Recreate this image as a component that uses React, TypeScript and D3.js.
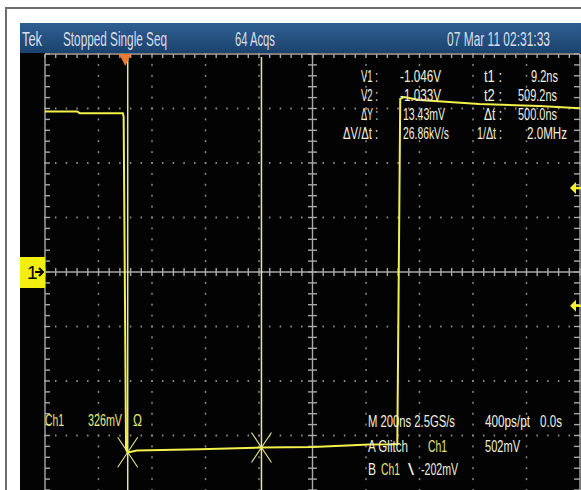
import React from "react";
import * as d3 from "d3";

// ---- data ----
const timeNs = [-300, -180, -170, -9, -6, 3, 9, 43, 278, 509, 703, 912, 1017, 1028, 1043, 1099, 1323, 1547, 1700];
const volts = [0.96, 0.96, 0.95, 0.95, 0.93, -1.06, -1.08, -1.068, -1.06, -1.05, -1.047, -1.032, -1.03, 1.035, 1.047, 1.029, 1.005, 0.993, 0.98];
const cursorTimesNs = [9.2, 509.2];
const cursorVolts = [-1.078, -1.05];
const triggerLevelsV = [0.502, -0.202];
const triggerTimeNs = 0;
const groundLevelV = 0;
const voltsPerDiv = 0.326;
const nsPerDiv = 200;
const startNs = -300;
const horizDivs = 10;
const vertDivs = 8;
const minorPerDiv = 5;

const headerLabels = ["Tek", "Stopped  Single Seq", "64 Acqs", "07 Mar 11 02:31:33"];
const readoutLeftLabels = ["V1 :", "V2 :", "ΔY :", "ΔV/Δt :"];
const readoutLeftValues = ["-1.046V", "-1.033V", "13.43mV", "26.86kV/s"];
const readoutRightLabels = ["t1 :", "t2 :", "Δt :", "1/Δt :"];
const readoutRightValues = ["9.2ns", "509.2ns", "500.0ns", "2.0MHz"];
const channelLabels = ["Ch1", "326mV", "Ω"];
const timebaseLabels = ["M 200ns 2.5GS/s", "400ps/pt", "0.0s"];
const triggerALabels = ["A  Glitch", "Ch1", "502mV"];
const triggerBLabels = ["B", "Ch1", "\\", "-202mV"];

const FONT = "'Liberation Sans Narrow', 'Arial Narrow', 'Liberation Sans', sans-serif";

function T(props: { x: number; y: number; w: number; size: number; fill: string; children: string }) {
  return (
    <text x={props.x} y={props.y} fontSize={props.size} fill={props.fill} fontFamily={FONT}
      textLength={props.w} lengthAdjust="spacingAndGlyphs">{props.children}</text>
  );
}

export default function App() {
  const W = 581, H = 490;
  const L = 45, R = 580, TOP = 54, BOT = 490;
  const x = d3.scaleLinear().domain([startNs, startNs + horizDivs * nsPerDiv]).range([L, R]);
  const y = d3.scaleLinear().domain([-vertDivs / 2 * voltsPerDiv, vertDivs / 2 * voltsPerDiv]).range([BOT, TOP]);

  const minorT = d3.range(0, horizDivs * minorPerDiv + 1).map(i => startNs + i * nsPerDiv / minorPerDiv);
  const minorV = d3.range(0, vertDivs * minorPerDiv + 1).map(i => -vertDivs / 2 * voltsPerDiv + i * voltsPerDiv / minorPerDiv);
  const majorT = d3.range(1, horizDivs).map(i => startNs + i * nsPerDiv);
  const majorV = d3.range(1, vertDivs).map(i => -vertDivs / 2 * voltsPerDiv + i * voltsPerDiv);
  const centerT = startNs + horizDivs / 2 * nsPerDiv;

  const line = d3.line<number>().x((_, i) => x(timeNs[i])).y(d => y(d));
  const wave = line(volts) || "";

  const gridCol = "#8a8a8a";
  const axisCol = "#a9a9a9";
  const curCol = "#e8e890";
  const txt = "#f0f0dc";
  const yel = "#e8e87a";

  const hdrW = [20, 104, 40, 103];
  const hdrX = [22, 63, 235, 447];
  const rowY = [82, 101, 120, 139];
  const llX = [361, 361, 361, 343], llW = [17, 17, 17, 35];
  const lvX = [400, 400, 403, 403], lvW = [41, 41, 42, 46];
  const rlX = [484, 484, 484, 477], rlW = [18, 18, 18, 25];
  const rvX = [531, 518, 518, 527], rvW = [27, 39, 39, 40];

  return (
    <svg width={W} height={H} style={{ position: "absolute", left: 0, top: 0, background: "#fff" }}>
      <defs>
        <linearGradient id="hdr" x1="0" y1="0" x2="0" y2="1">
          <stop offset="0" stopColor="#2f5f92" />
          <stop offset="1" stopColor="#1a426e" />
        </linearGradient>
        <clipPath id="plotClip"><rect x={L} y={TOP} width={R - L + 1} height={BOT - TOP} /></clipPath>
      </defs>
      {/* outer frame */}
      <rect x={0} y={0} width={W} height={H} fill="#fff" />
      <line x1={6} y1={8} x2={6} y2={H} stroke="#6e6e6e" strokeWidth={2} />
      <line x1={5} y1={8} x2={W} y2={8} stroke="#6e6e6e" strokeWidth={2} />
      {/* screen */}
      <rect x={20} y={23} width={W - 20} height={H - 23} fill="#030303" />
      <rect x={20} y={23} width={W - 20} height={30} fill="url(#hdr)" />
      {headerLabels.map((s, i) => (
        <T key={s} x={hdrX[i]} y={46} w={hdrW[i]} size={20} fill="#d9dee8">{s}</T>
      ))}

      {/* dotted grid */}
      <g fill={gridCol}>
        {majorT.filter(t => t !== centerT).map(t =>
          minorV.map((v, j) => <rect key={`vt${t}-${j}`} x={x(t) - 0.75} y={y(v) - 1} width={1.5} height={2} />))}
        {majorV.filter(v => Math.abs(v) > 1e-9).map(v =>
          minorT.map((t, j) => <rect key={`hv${v}-${j}`} x={x(t) - 0.75} y={y(v) - 1} width={1.5} height={2} />))}
      </g>

      {/* center axes and borders */}
      <g stroke={axisCol} strokeWidth={1.4}>
        <line x1={L} x2={R} y1={y(0)} y2={y(0)} />
        <line x1={x(centerT)} x2={x(centerT)} y1={TOP} y2={BOT} />
        {minorT.map((t, i) => <line key={`cx${i}`} x1={x(t)} x2={x(t)} y1={y(0) - 4} y2={y(0) + 4} />)}
        {minorV.map((v, i) => <line key={`cy${i}`} x1={x(centerT) - 4.5} x2={x(centerT) + 4.5} y1={y(v)} y2={y(v)} />)}
        <line x1={L} x2={R} y1={TOP} y2={TOP} />
        <line x1={L} x2={L} y1={TOP} y2={BOT} />
        <line x1={R} x2={R} y1={TOP} y2={BOT} />
        {minorT.map((t, i) => <line key={`tx${i}`} x1={x(t)} x2={x(t)} y1={TOP} y2={TOP + 4} />)}
        {minorV.map((v, i) => <line key={`ly${i}`} x1={L} x2={L + 5} y1={y(v)} y2={y(v)} />)}
        {minorV.map((v, i) => <line key={`ry${i}`} x1={R - 6} x2={R} y1={y(v)} y2={y(v)} />)}
      </g>

      {/* cursors */}
      <g stroke={curCol} strokeWidth={1.5}>
        {cursorTimesNs.map(t => <line key={`c${t}`} x1={x(t)} x2={x(t)} y1={TOP + 3} y2={BOT} />)}
      </g>
      <g stroke={curCol} strokeWidth={1.1}>
        {cursorTimesNs.map((t, i) => (
          <g key={`xm${t}`}>
            <line x1={x(t) - 10} x2={x(t) + 10} y1={y(cursorVolts[i]) - 15} y2={y(cursorVolts[i]) + 15} />
            <line x1={x(t) + 10} x2={x(t) - 10} y1={y(cursorVolts[i]) - 15} y2={y(cursorVolts[i]) + 15} />
          </g>
        ))}
      </g>

      {/* waveform */}
      <path d={wave} fill="none" stroke="#f4f04c" strokeWidth={2} clipPath="url(#plotClip)" />

      {/* trigger position marker */}
      <path d={`M${x(triggerTimeNs) - 6},${TOP} L${x(triggerTimeNs) + 6},${TOP} L${x(triggerTimeNs)},${TOP + 12} Z`} fill="#f07a32" />

      {/* ground marker */}
      <rect x={20} y={y(groundLevelV) - 15} width={25} height={31} fill="#f2ee10" />
      <text x={27} y={y(groundLevelV) + 7} fontSize={19} fontFamily={FONT} fill="#000">1</text>
      <path d={`M35,${y(groundLevelV)} L43,${y(groundLevelV)} M39,${y(groundLevelV) - 4} L43,${y(groundLevelV)} L39,${y(groundLevelV) + 4}`} stroke="#000" strokeWidth={2} fill="none" />

      {/* trigger level arrows */}
      {triggerLevelsV.map(v => (
        <g key={`tl${v}`}>
          <path d={`M570,${y(v)} L576,${y(v) - 6} L576,${y(v) + 6} Z`} fill="#f2ee30" />
          <line x1={575} x2={581} y1={y(v)} y2={y(v)} stroke="#f2ee30" strokeWidth={2.5} />
        </g>
      ))}

      {/* cursor readouts */}
      {readoutLeftLabels.map((s, i) => <T key={s} x={llX[i]} y={rowY[i]} w={llW[i]} size={16} fill={txt}>{s}</T>)}
      {readoutLeftValues.map((s, i) => <T key={s} x={lvX[i]} y={rowY[i]} w={lvW[i]} size={16} fill={txt}>{s}</T>)}
      {readoutRightLabels.map((s, i) => <T key={s} x={rlX[i]} y={rowY[i]} w={rlW[i]} size={16} fill={txt}>{s}</T>)}
      {readoutRightValues.map((s, i) => <T key={s} x={rvX[i]} y={rowY[i]} w={rvW[i]} size={16} fill={txt}>{s}</T>)}

      {/* channel readout */}
      <T x={45} y={426} w={19} size={16} fill={yel}>{channelLabels[0]}</T>
      <T x={88} y={426} w={34} size={16} fill={yel}>{channelLabels[1]}</T>
      <T x={133} y={426} w={9} size={16} fill={yel}>{channelLabels[2]}</T>

      {/* timebase / trigger readouts */}
      <T x={368} y={427} w={87} size={16} fill={txt}>{timebaseLabels[0]}</T>
      <T x={485} y={427} w={45} size={16} fill={txt}>{timebaseLabels[1]}</T>
      <T x={540} y={427} w={22} size={16} fill={txt}>{timebaseLabels[2]}</T>
      <T x={368} y={452} w={40} size={16} fill={txt}>{triggerALabels[0]}</T>
      <T x={428} y={452} w={19} size={16} fill={yel}>{triggerALabels[1]}</T>
      <T x={485} y={452} w={35} size={16} fill={txt}>{triggerALabels[2]}</T>
      <T x={368} y={475} w={8} size={16} fill={txt}>{triggerBLabels[0]}</T>
      <T x={381} y={475} w={19} size={16} fill={yel}>{triggerBLabels[1]}</T>
      <T x={408} y={475} w={6} size={16} fill={txt}>{triggerBLabels[2]}</T>
      <T x={421} y={475} w={37} size={16} fill={txt}>{triggerBLabels[3]}</T>
    </svg>
  );
}
